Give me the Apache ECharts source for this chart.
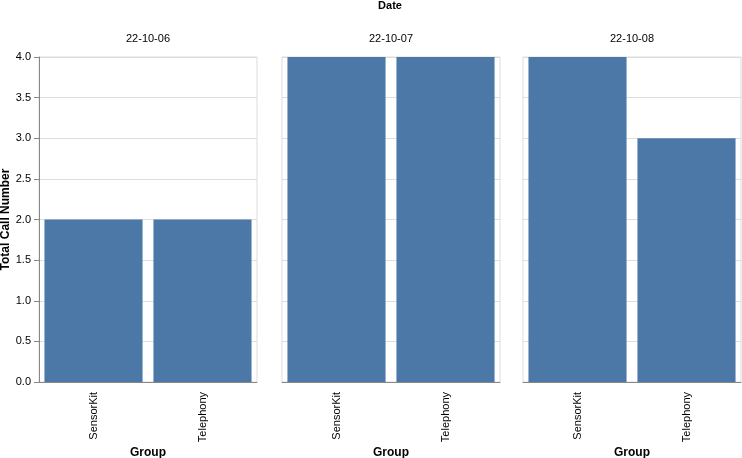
<!DOCTYPE html>
<html><head><meta charset="utf-8">
<script src="https://cdn.jsdelivr.net/npm/echarts@6/dist/echarts.min.js"></script>
<style>html,body{margin:0;padding:0;background:#fff}#c{width:742px;height:458px}</style>
</head><body><div id="c"></div>
<script>
const dates = ["22-10-06", "22-10-07", "22-10-08"];
const groups = ["SensorKit", "Telephony"];
const calls = [[2, 2], [4, 4], [4, 3]];
const yTicks = [0, 0.5, 1, 1.5, 2, 2.5, 3, 3.5, 4];

const FONT = '"Liberation Sans", Arial, sans-serif';
const lefts = [39, 282, 523];
const W = 218, TOP = 57, H = 325;
const chart = echarts.init(document.getElementById('c'));
const grid = [], xAxis = [], yAxis = [], series = [], title = [];
title.push({text: 'Date', left: 390, top: 0, padding: 0, textAlign: 'center',
  textStyle: {fontFamily: FONT, fontSize: 11, fontWeight: 'bold', color: '#000'}});
dates.forEach((d, i) => {
  grid.push({left: lefts[i], top: TOP, width: W, height: H, show: true, borderColor: '#ddd', borderWidth: 1,
    containLabel: false, outerBoundsMode: 'none'});
  title.push({text: d, left: lefts[i] + W / 2, top: 33, padding: 0, textAlign: 'center',
    textStyle: {fontFamily: FONT, fontSize: 11, fontWeight: 'normal', color: '#000'}});
  xAxis.push({type: 'category', gridIndex: i, data: groups,
    name: 'Group', nameLocation: 'middle', nameGap: 71, nameMoveOverlap: false,
    nameTextStyle: {fontFamily: FONT, fontSize: 12, fontWeight: 'bold', color: '#000', verticalAlign: 'middle'},
    axisLine: {lineStyle: {color: '#888'}}, axisTick: {alignWithLabel: true, length: 5, lineStyle: {color: '#888'}},
    axisLabel: {rotate: 90, fontFamily: FONT, fontSize: 11, color: '#000', margin: 10}});
  yAxis.push({type: 'value', gridIndex: i, min: 0, max: 4, interval: 0.5,
    name: i === 0 ? 'Total Call Number' : '', nameLocation: 'middle', nameGap: 33, nameRotate: 90,
    nameMoveOverlap: false,
    nameTextStyle: {fontFamily: FONT, fontSize: 12, fontWeight: 'bold', color: '#000', verticalAlign: 'middle'},
    axisLine: {show: i === 0, lineStyle: {color: '#888'}},
    axisTick: {show: i === 0, length: 5, lineStyle: {color: '#888'}},
    axisLabel: {show: i === 0, fontFamily: FONT, fontSize: 11, color: '#000', margin: 8,
      formatter: v => yTicks.includes(v) ? v.toFixed(1) : ''},
    splitLine: {show: true, lineStyle: {color: '#ddd'}}});
  series.push({type: 'bar', xAxisIndex: i, yAxisIndex: i, data: calls[i],
    barCategoryGap: '10%', itemStyle: {color: '#4c78a8'}, silent: true});
});
chart.setOption({animation: false, title, grid, xAxis, yAxis, series});
</script></body></html>
